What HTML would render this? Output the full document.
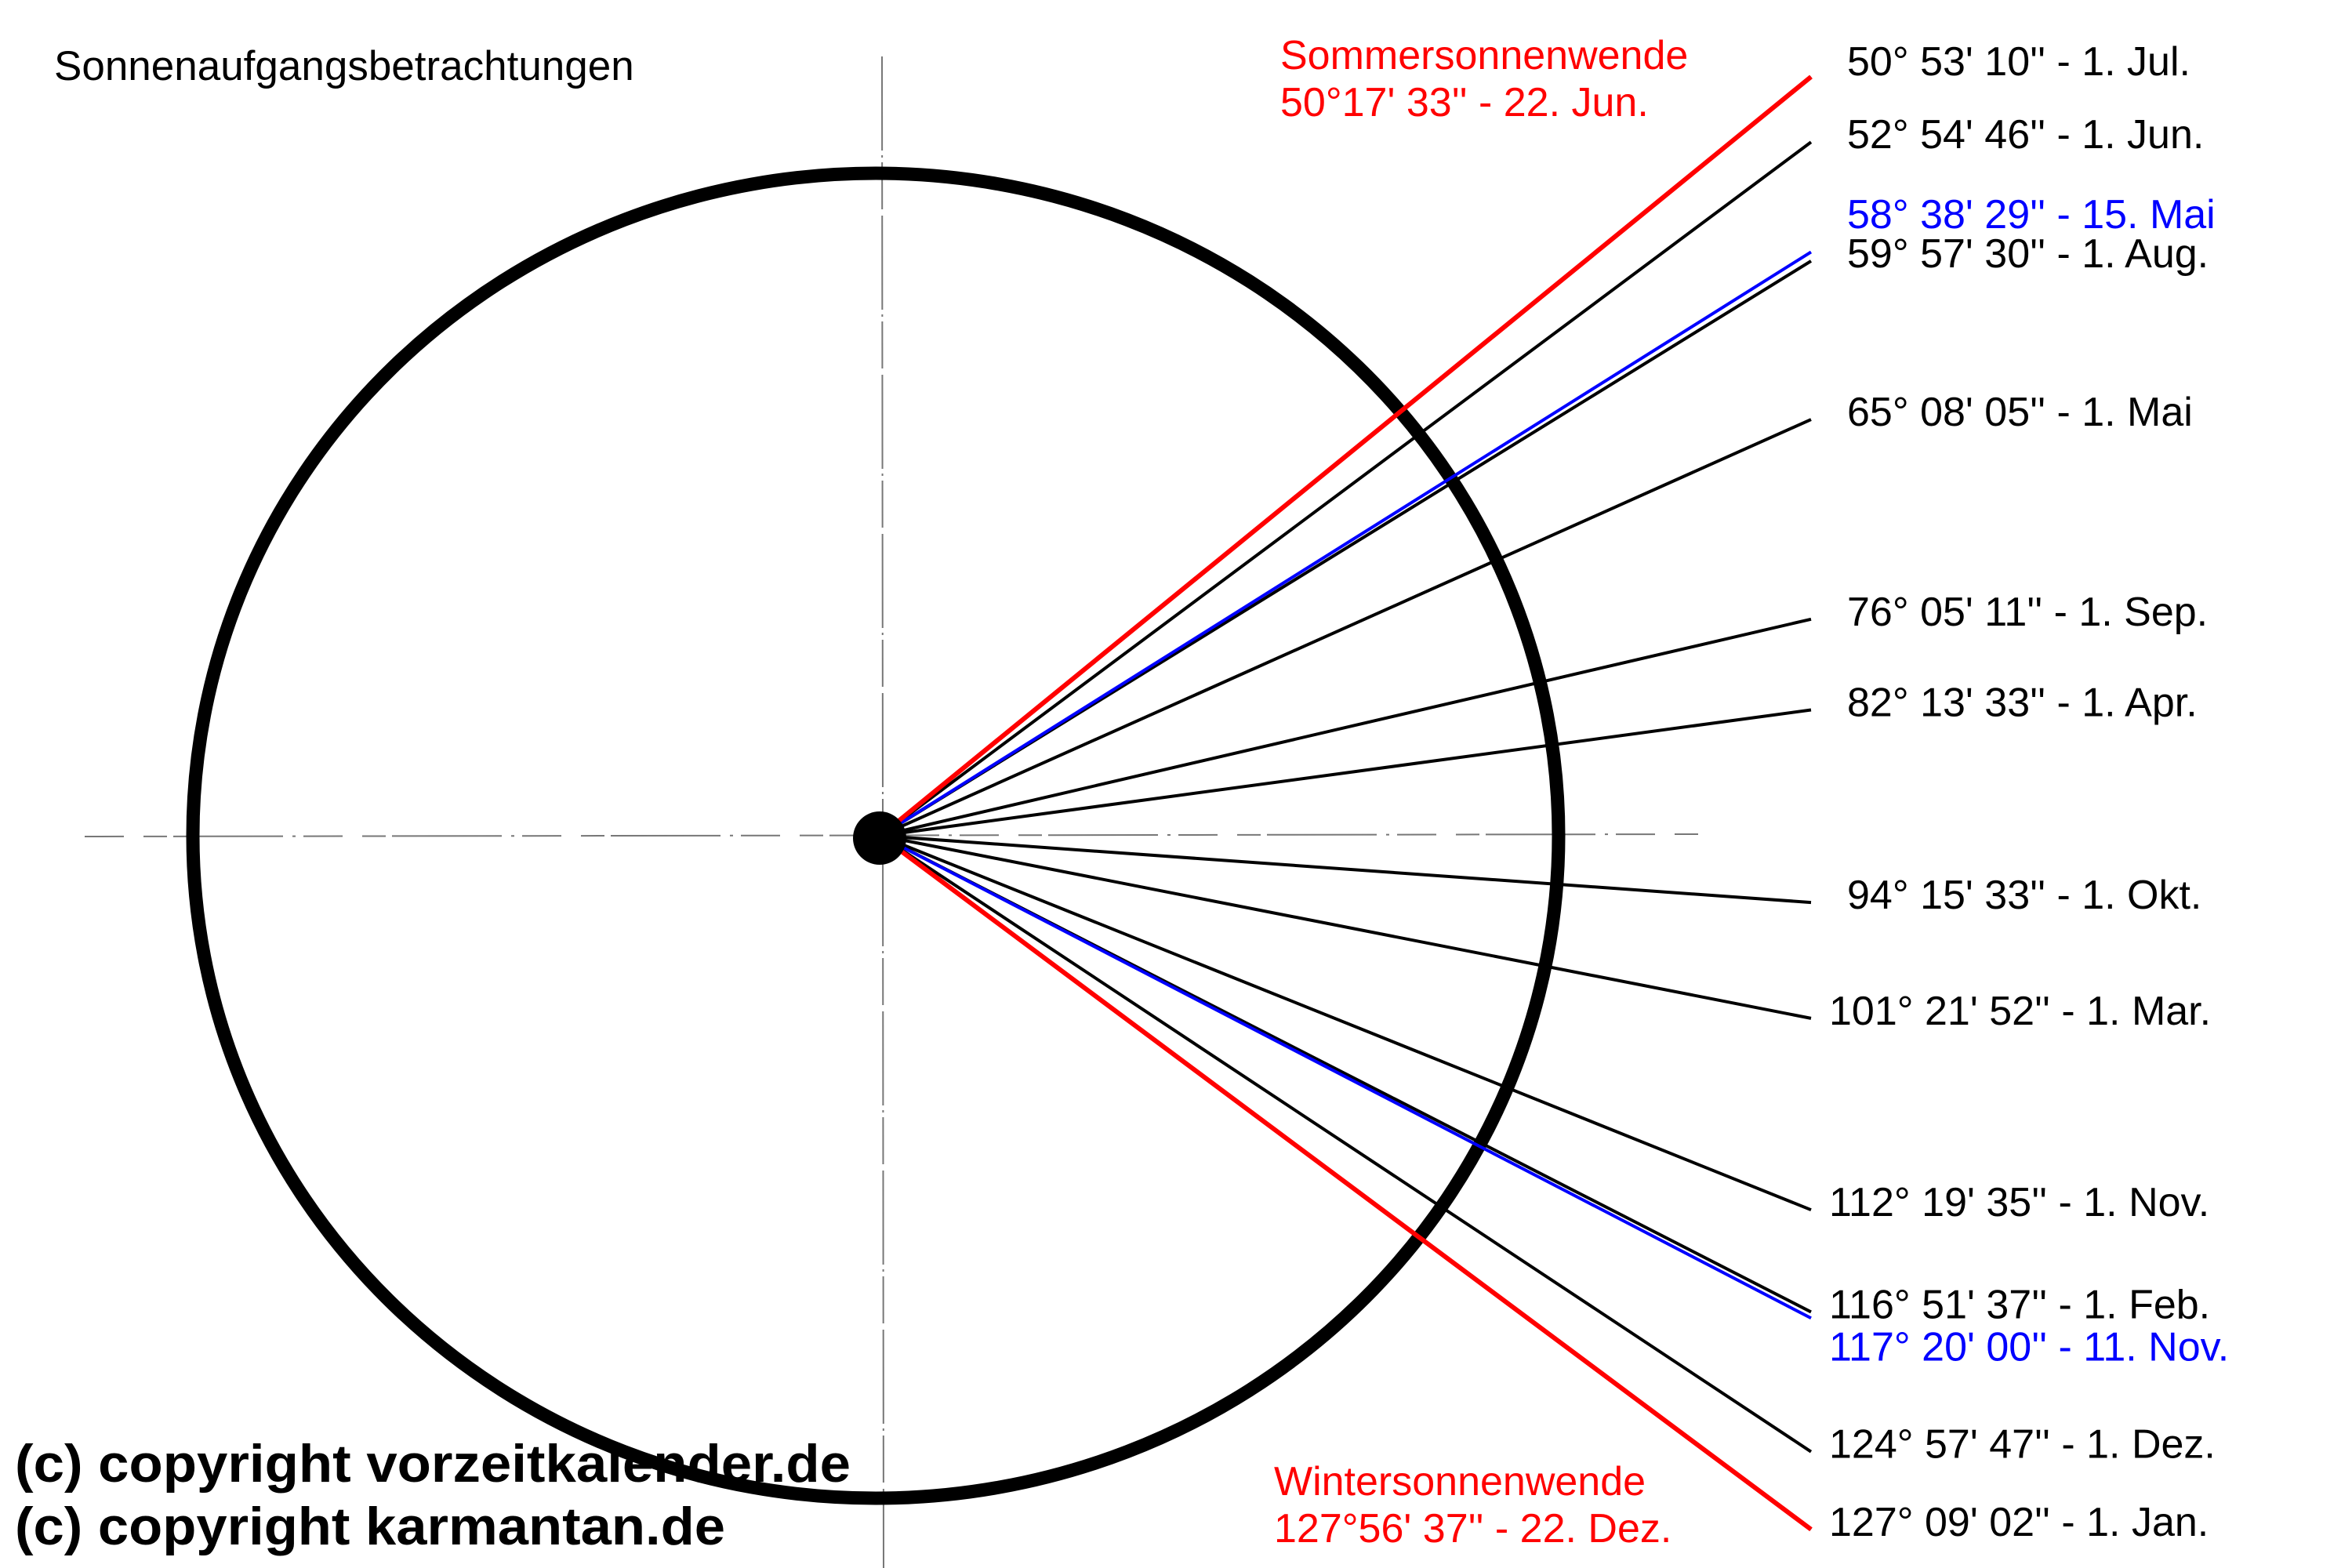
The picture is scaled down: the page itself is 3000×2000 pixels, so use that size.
<!DOCTYPE html>
<html><head><meta charset="utf-8"><style>
html,body{margin:0;padding:0;background:#fff;}
svg{display:block;font-family:"Liberation Sans",sans-serif;}
</style></head><body>
<svg id="chart" width="3000" height="2000" viewBox="0 0 3000 2000">
<rect width="3000" height="2000" fill="#fff"/>
<text x="69" y="102" font-size="53" fill="#000">Sonnenaufgangsbetrachtungen</text>
<line x1="1125" y1="72" x2="1127" y2="2000" stroke="#777" stroke-width="2" stroke-dasharray="120 6 3 6 60 8"/>
<line x1="108" y1="1067" x2="2170" y2="1064" stroke="#777" stroke-width="2" stroke-dasharray="50 25 30 8 140 12 4 10"/>
<ellipse cx="1117" cy="1066" rx="871" ry="845" fill="none" stroke="#000" stroke-width="17"/>
<g id="rays"></g>
<circle cx="1122" cy="1069" r="34" fill="#000"/>
<g id="labels"></g>
<text x="1633" y="88" font-size="52" fill="#ff0000">Sommersonnenwende</text>
<text x="1633" y="148" font-size="52" fill="#ff0000">50°17' 33'' - 22. Jun.</text>
<text x="1625" y="1907" font-size="52" fill="#ff0000">Wintersonnenwende</text>
<text x="1625" y="1967" font-size="52" fill="#ff0000">127°56' 37'' - 22. Dez.</text>
<text x="19" y="1890" font-size="68" font-weight="bold" fill="#000" textLength="1066" lengthAdjust="spacingAndGlyphs">(c) copyright vorzeitkalender.de</text>
<text x="19" y="1970" font-size="68" font-weight="bold" fill="#000" textLength="906" lengthAdjust="spacingAndGlyphs">(c) copyright karmantan.de</text>
</svg>
<script>
// Drawn ray directions (degrees from north)
const rayNames = ["sommer","jul","jun","mai15","aug","mai","sep","apr","okt","mar","nov","feb","nov11","dez","jan","winter"];
const rayAzimuths = [50.8,50.8,53.3,57.9,58.3,65.9,76.9,82.3,94.1,101.1,111.9,117.1,117.4,123.5,126.7,126.7];
const rayColors = ["red","black","black","blue","black","black","black","black","black","black","black","black","blue","black","black","red"];
const labelTexts = [null,"50° 53' 10'' - 1. Jul.","52° 54' 46'' - 1. Jun.","58° 38' 29'' - 15. Mai","59° 57' 30'' - 1. Aug.","65° 08' 05'' - 1. Mai","76° 05' 11'' - 1. Sep.","82° 13' 33'' - 1. Apr.","94° 15' 33'' - 1. Okt.","101° 21' 52'' - 1. Mar.","112° 19' 35'' - 1. Nov.","116° 51' 37'' - 1. Feb.","117° 20' 00'' - 11. Nov.","124° 57' 47'' - 1. Dez.","127° 09' 02'' - 1. Jan.",null];

const NS="http://www.w3.org/2000/svg";
const cx=1123, cy=1066, endX=2310;
const colorMap={red:"#ff0000",black:"#000000",blue:"#0000ff"};
const widthMap={red:6,black:4,blue:4};
function rayEndY(az){ const rad=az*Math.PI/180; return cy - (endX-cx)*Math.cos(rad)/Math.sin(rad); }
const rays=document.getElementById('rays');
const labels=document.getElementById('labels');
const order=[1,2,4,5,6,7,8,9,10,11,13,14,3,12,0,15];
order.forEach(i=>{
  const l=document.createElementNS(NS,'line');
  l.setAttribute('x1',cx);l.setAttribute('y1',cy);
  l.setAttribute('x2',endX);l.setAttribute('y2',rayEndY(rayAzimuths[i]));
  l.setAttribute('stroke',colorMap[rayColors[i]]);
  l.setAttribute('stroke-width',widthMap[rayColors[i]]);
  
  
  rays.appendChild(l);
});
const labelY=[];
rayAzimuths.forEach((az,i)=>{ labelY[i]=rayEndY(az)+8; });
labelY[1]=labelY[1]-10;
labelY[3]=labelY[4]-50;
labelY[12]=labelY[11]+54;
labelTexts.forEach((t,i)=>{
  if(!t) return;
  const tx=document.createElementNS(NS,'text');
  const three=rayAzimuths[i]>=100;
  tx.setAttribute('x', three?2333:2356);
  tx.setAttribute('y', labelY[i]);
  tx.setAttribute('font-size','52');
  tx.setAttribute('fill', colorMap[rayColors[i]]);
  tx.textContent=t;
  
  
  labels.appendChild(tx);
});
</script>
</body></html>
